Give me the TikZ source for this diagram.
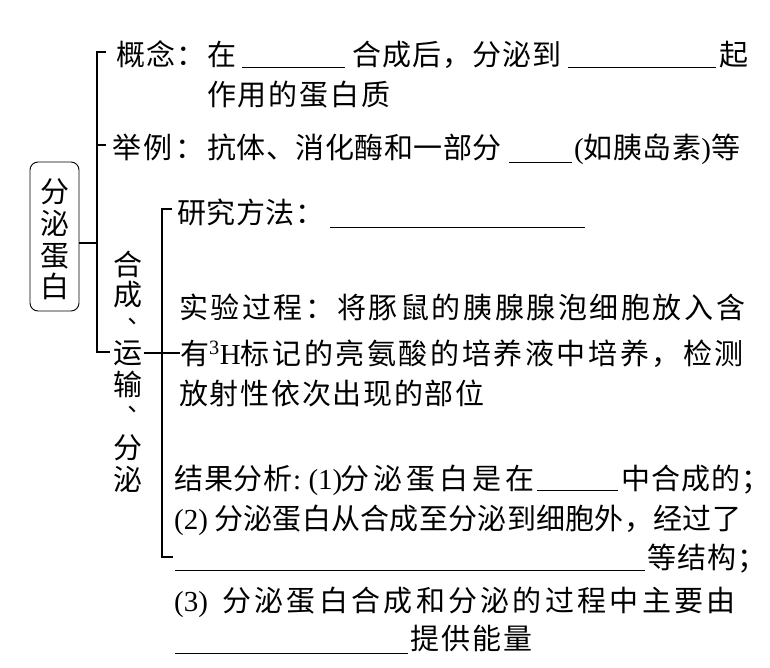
\documentclass[tikz,border=0pt]{standalone}
\usepackage{fontspec}
\setmainfont{Liberation Serif}
\newfontfamily\cjk{Noto Sans CJK SC}
\newfontfamily\cjktc{Noto Sans CJK TC}
\newcommand\fsz{\fontsize{29}{33}\selectfont}
\tikzset{
  t/.style={anchor=base west, inner sep=0pt, font={\fsz\cjk\addfontfeatures{LetterSpace=#1}}},
  t/.default=4,
  lat/.style={anchor=base west, inner sep=0pt, font={\fsz\rmfamily}},
  vch/.style={anchor=center, inner sep=0pt, font={\fsz\cjk}},
  vcomma/.style={anchor=center, inner sep=0pt, font={\fontsize{24}{28}\selectfont\cjktc}},
  ln/.style={line width=1.1pt, black},
  blank/.style={line width=1pt, black},
  boxstyle/.style={draw, rounded corners=8pt, line width=0.9pt, minimum width=49pt, minimum height=149pt, inner sep=0pt},
}
\begin{document}
\begin{tikzpicture}[x=1pt,y=-1pt]
\useasboundingbox (0,0) rectangle (770,668);
% left box
\node[boxstyle] (box) at (54.5,236.5) {};
\node[font={\fontsize{29}{31.7}\selectfont\cjk}, align=center, inner sep=0pt] (boxtxt) at (55,239.5) {分\\泌\\蛋\\白};
% outer bracket
\coordinate (b) at (97,243);
\draw[ln] (box.east |- b) -- (b);
\draw[ln] (106,52) -- (97,52) -- (97,352) -- (110,352);
\draw[ln] (97,145) -- (106,145);
% vertical label
\node[vch] (v1) at (128,264) {合};
\node[vch] (v2) at (128,295) {成};
\node[vcomma] (v3) at (132,324) {、};
\node[vch] (v4) at (128,353) {运};
\node[vch] (v5) at (128,384) {输};
\node[vcomma] (v6) at (132,412) {、};
\node[vch] (v7) at (128,448) {分};
\node[vch] (v8) at (128,479) {泌};
% inner bracket
\draw[ln] (172,209) -- (162,209) -- (162,557) -- (173,557);
% line 1
\node[t=4.5] (l1a) at (116,66) {概念：在};
\draw[blank] (242,68) -- (345,68);
\node[t=3.8] (l1b) at (352,66) {合成后，分泌到};
\draw[blank] (568,68) -- (716,68);
\node[t] (l1c) at (719,66) {起};
% line 2
\node[t=6.2] (l2) at (207,106) {作用的蛋白质};
% line 3
\node[t=9.3] (l3a) at (112,159) {举例：};
\node[t=1.7] (l3b) at (207,159) {抗体、消化酶和一部分};
\draw[blank] (509,163) -- (572,163);
\node[t=1.7] (l3c) at (574,159) {{\rmfamily(}如胰岛素{\rmfamily)}等};
% line 4
\node[t=2] (l4) at (177,224) {研究方法：};
\draw[blank] (330,228) -- (585,228);
% lines 5-7
\node[t=8.9] (l5) at (179,318) {实验过程：将豚鼠的胰腺腺泡细胞放入含};
\node[t=9] (l6) at (180,364) {有{\rmfamily\textsuperscript{3}H}标记的亮氨酸的培养液中培养，检测};
\draw[ln] ([xshift=1pt]v4.east) -- (l6.west |- v4.east);
\node[t=5.9] (l7) at (179,404) {放射性依次出现的部位};
% line 8
\node[t=3] (l8a) at (174,489) {结果分析};
\node[lat] (l8b) at (293,489) {:\ (1)};
\node[t=13.8] (l8c) at (340,489) {分泌蛋白是在};
\draw[blank] (537,490) -- (618,490);
\node[t=4] (l8d) at (621,489) {中合成的；};
% line 9
\node[lat] (l9a) at (174,529) {(2)};
\node[t=1] (l9b) at (214,529) {分泌蛋白从合成至分泌到细胞外，经过了};
% line 10
\draw[blank] (175,570) -- (645,570);
\node[t=4] (l10) at (647,568) {等结构；};
% line 11
\node[lat] (l11a) at (174,611) {(3)};
\node[t=11.4] (l11b) at (222,611) {分泌蛋白合成和分泌的过程中主要由};
% line 12
\draw[blank] (175,653) -- (408,653);
\node[t=6.9] (l12) at (410,649) {提供能量};
\end{tikzpicture}
\end{document}
